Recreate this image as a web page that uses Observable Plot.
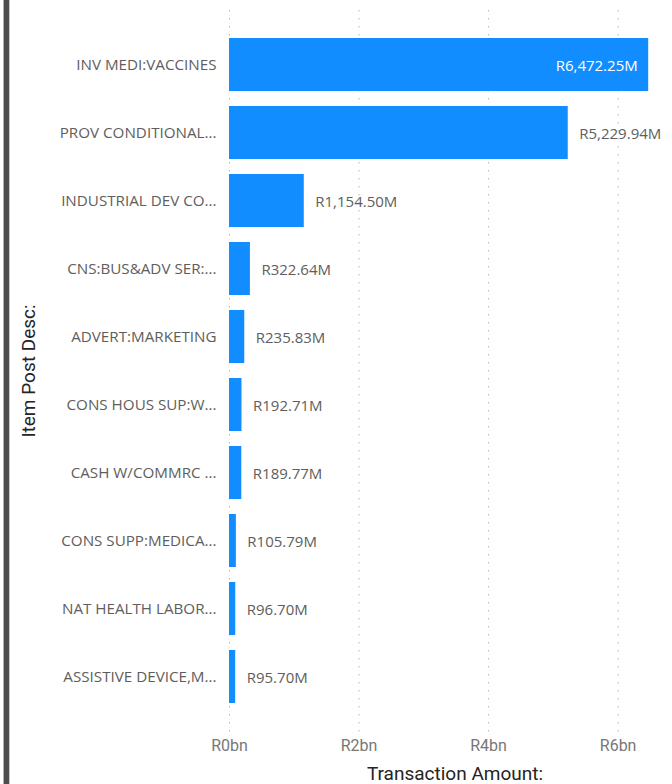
<!DOCTYPE html>
<html>
<head>
<meta charset="utf-8">
<script src="https://cdn.jsdelivr.net/npm/d3@7"></script>
<script src="https://cdn.jsdelivr.net/npm/@observablehq/plot@0.6"></script>
<style>
  html, body { margin: 0; padding: 0; background: #fff; }
  #wrap { position: relative; width: 672px; height: 784px; overflow: hidden; background: #fff; }
  #border { position: absolute; left: 3px; top: 0; width: 5px; height: 784px; background: #4d4d4d; border-left: 1px solid #b0b0b0; border-right: 1px solid #c8c8c8; }
  #ytitle { position: absolute; left: 28px; top: 371px; transform: translate(-50%, -50%) rotate(-90deg); white-space: nowrap;
            font-family: Roboto, "DejaVu Sans", sans-serif; font-size: 19px; color: #252423; }
  #xtitle { position: absolute; left: 455px; top: 773px; transform: translate(-50%, -50%); white-space: nowrap;
            font-family: Roboto, "DejaVu Sans", sans-serif; font-size: 19px; color: #252423; }
  #chart { position: absolute; left: 0; top: 0; }
</style>
</head>
<body>
<div id="wrap">
  <div id="border"></div>
  <div id="chart"></div>
  <div id="ytitle">Item Post Desc:</div>
  <div id="xtitle">Transaction Amount:</div>
</div>
<script>
const categories = [
  "INV MEDI:VACCINES",
  "PROV CONDITIONAL...",
  "INDUSTRIAL DEV CO...",
  "CNS:BUS&ADV SER:...",
  "ADVERT:MARKETING",
  "CONS HOUS SUP:W...",
  "CASH W/COMMRC ...",
  "CONS SUPP:MEDICA...",
  "NAT HEALTH LABOR...",
  "ASSISTIVE DEVICE,M..."
];
const amountsM = [6472.25, 5229.94, 1154.50, 322.64, 235.83, 192.71, 189.77, 105.79, 96.70, 95.70];
const xTickValues = [0, 2, 4, 6];

const maxM = d3.max(amountsM);
const data = categories.map((c, i) => ({
  cat: c,
  bn: amountsM[i] / 1000,
  label: "R" + d3.format(",.2f")(amountsM[i]) + "M",
  inside: amountsM[i] / maxM > 0.9
}));

const labelFont = "'Segoe UI', 'Open Sans', 'Noto Sans', sans-serif";
const dinFont = "Roboto, 'DejaVu Sans', sans-serif";

const chart = Plot.plot({
  width: 672,
  height: 758,
  marginLeft: 229,
  marginRight: 22,
  marginTop: 10,
  marginBottom: 25,
  style: { background: "transparent", overflow: "visible" },
  x: { domain: [0, 6.5], ticks: xTickValues },
  y: { domain: categories, paddingInner: 0.223, paddingOuter: 0.41, align: 0.483 },
  marks: [
    Plot.gridX(xTickValues, { stroke: "#b8b8b8", strokeOpacity: 1, strokeWidth: 1, strokeDasharray: "1.5,6.5" }),
    Plot.barX(data, { x: "bn", y: "cat", fill: "#118DFF" }),
    Plot.text(data.filter(d => !d.inside), { x: "bn", y: "cat", text: "label", textAnchor: "start", dx: 11, dy: 1,
      fill: "#605E5C", fontSize: 15, fontFamily: labelFont }),
    Plot.text(data.filter(d => d.inside), { x: "bn", y: "cat", text: "label", textAnchor: "end", dx: -11, dy: 1,
      fill: "#ffffff", fontSize: 15, fontFamily: labelFont }),
    Plot.axisY({ tickSize: 0, tickPadding: 13, label: null, fill: "#605E5C", fontSize: 15.2, fontFamily: labelFont }),
    Plot.axisX({ ticks: xTickValues, tickSize: 0, tickPadding: 6, label: null, tickFormat: d => `R${d}bn`,
      fill: "#777777", fontSize: 16, fontFamily: dinFont })
  ]
});
document.getElementById("chart").appendChild(chart);
</script>
</body>
</html>
